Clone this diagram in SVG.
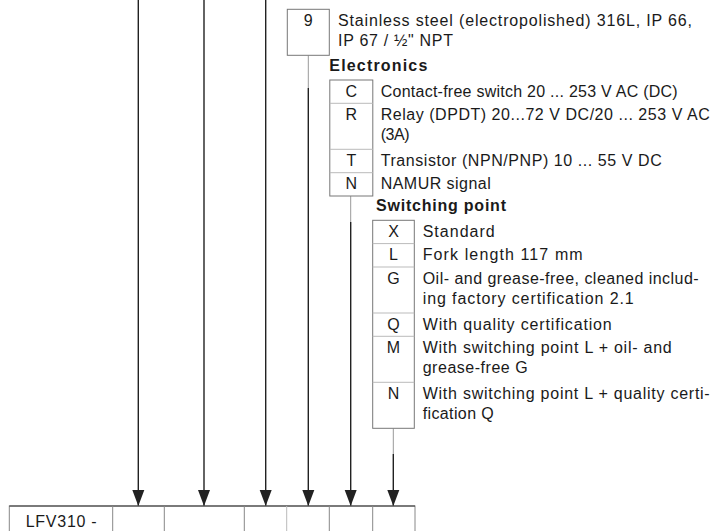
<svg xmlns="http://www.w3.org/2000/svg" width="715" height="531" viewBox="0 0 715 531">
<defs>
<style>
text{font-family:"Liberation Sans",Arial,sans-serif;font-size:16px;fill:#1a1a1a}
.b{font-weight:bold}
.c{text-anchor:middle}
.box{fill:#fff;stroke:#777;stroke-width:1}
.div{stroke:#bbb;stroke-width:1}
.cd{stroke:#888;stroke-width:1}
.ln{stroke:#222;stroke-width:1.4;fill:none}
.gl{stroke:#999;stroke-width:1;fill:none}
</style>
<marker id="ah" markerUnits="userSpaceOnUse" markerWidth="18" markerHeight="14" viewBox="0 0 18 14" refX="17" refY="7" orient="auto">
<path d="M1,1 L17,7 L1,13 Z" fill="#222"/>
</marker>
</defs>

<g id="connectors">
<line class="ln" x1="138.3" y1="0" x2="138.3" y2="506" marker-end="url(#ah)"/>
<line class="ln" x1="204" y1="0" x2="204" y2="506" marker-end="url(#ah)"/>
<line class="ln" x1="265.7" y1="0" x2="265.7" y2="506" marker-end="url(#ah)"/>
<line class="gl" x1="308.3" y1="55.3" x2="308.3" y2="88"/>
<line class="ln" x1="308.3" y1="88" x2="308.3" y2="506" marker-end="url(#ah)"/>
<line class="gl" x1="350.7" y1="196" x2="350.7" y2="222"/>
<line class="ln" x1="350.7" y1="222" x2="350.7" y2="506" marker-end="url(#ah)"/>
<line class="gl" x1="393.3" y1="428.3" x2="393.3" y2="454"/>
<line class="ln" x1="393.3" y1="454" x2="393.3" y2="506" marker-end="url(#ah)"/>
</g>

<g id="housing">
<rect class="box" x="287.3" y="9.3" width="42" height="46"/>
<text class="c" x="308.3" y="26">9</text>
<text x="338" y="26" textLength="354" lengthAdjust="spacing">Stainless steel (electropolished) 316L, IP 66,</text>
<text x="338" y="46" textLength="115" lengthAdjust="spacing">IP 67 / ½" NPT</text>
</g>

<g id="electronics">
<text class="b" x="329.3" y="70.5" textLength="98" lengthAdjust="spacing">Electronics</text>
<rect class="box" x="329.8" y="80" width="43" height="116"/>
<line class="div" x1="329.8" y1="103.3" x2="372.8" y2="103.3"/>
<line class="div" x1="329.8" y1="149.3" x2="372.8" y2="149.3"/>
<line class="div" x1="329.8" y1="172.7" x2="372.8" y2="172.7"/>
<text class="c" x="351.3" y="96.5">C</text>
<text x="380.7" y="96.5" textLength="297" lengthAdjust="spacing">Contact-free switch 20 ... 253 V AC (DC)</text>
<text class="c" x="351.3" y="119.8">R</text>
<text x="380.7" y="119.8" textLength="329" lengthAdjust="spacing">Relay (DPDT) 20...72 V DC/20 ... 253 V AC</text>
<text x="380.7" y="139.8" textLength="29" lengthAdjust="spacing">(3A)</text>
<text class="c" x="351.3" y="165.8">T</text>
<text x="380.7" y="165.8" textLength="281" lengthAdjust="spacing">Transistor (NPN/PNP) 10 ... 55 V DC</text>
<text class="c" x="351.3" y="189.2">N</text>
<text x="380.7" y="189.2" textLength="110" lengthAdjust="spacing">NAMUR signal</text>
</g>

<g id="switching-point">
<text class="b" x="376" y="211" textLength="130" lengthAdjust="spacing">Switching point</text>
<rect class="box" x="372.7" y="220.3" width="41.6" height="208"/>
<line class="div" x1="372.7" y1="243.6" x2="414.3" y2="243.6"/>
<line class="div" x1="372.7" y1="267" x2="414.3" y2="267"/>
<line class="div" x1="372.7" y1="313" x2="414.3" y2="313"/>
<line class="div" x1="372.7" y1="336.3" x2="414.3" y2="336.3"/>
<line class="div" x1="372.7" y1="382.3" x2="414.3" y2="382.3"/>
<text class="c" x="393.5" y="236.8">X</text>
<text x="422.7" y="236.8" textLength="72" lengthAdjust="spacing">Standard</text>
<text class="c" x="393.5" y="260.1">L</text>
<text x="422.7" y="260.1" textLength="160" lengthAdjust="spacing">Fork length 117 mm</text>
<text class="c" x="393.5" y="283.5">G</text>
<text x="422.7" y="283.5" textLength="276" lengthAdjust="spacing">Oil- and grease-free, cleaned includ-</text>
<text x="422.7" y="303.5" textLength="211" lengthAdjust="spacing">ing factory certification 2.1</text>
<text class="c" x="393.5" y="329.5">Q</text>
<text x="422.7" y="329.5" textLength="189" lengthAdjust="spacing">With quality certification</text>
<text class="c" x="393.5" y="352.8">M</text>
<text x="422.7" y="352.8" textLength="249" lengthAdjust="spacing">With switching point L + oil- and</text>
<text x="422.7" y="372.8" textLength="105" lengthAdjust="spacing">grease-free G</text>
<text class="c" x="393.5" y="398.8">N</text>
<text x="422.7" y="398.8" textLength="287" lengthAdjust="spacing">With switching point L + quality certi-</text>
<text x="422.7" y="418.8" textLength="71" lengthAdjust="spacing">fication Q</text>
</g>

<g id="type-code">
<rect x="9.3" y="506" width="405.7" height="40" fill="#fff" stroke="#888" stroke-width="1"/>
<line x1="9.3" y1="506" x2="415" y2="506" stroke="#333" stroke-width="1.2"/>
<line class="cd" x1="112.7" y1="506" x2="112.7" y2="531"/>
<line class="cd" x1="164.3" y1="506" x2="164.3" y2="531"/>
<line class="cd" x1="244.3" y1="506" x2="244.3" y2="531"/>
<line class="div" x1="286.7" y1="506" x2="286.7" y2="531"/>
<line class="cd" x1="329.3" y1="506" x2="329.3" y2="531"/>
<line class="cd" x1="372.7" y1="506" x2="372.7" y2="531"/>
<text x="25.7" y="526.5" textLength="71" lengthAdjust="spacing">LFV310 -</text>
</g>
</svg>
